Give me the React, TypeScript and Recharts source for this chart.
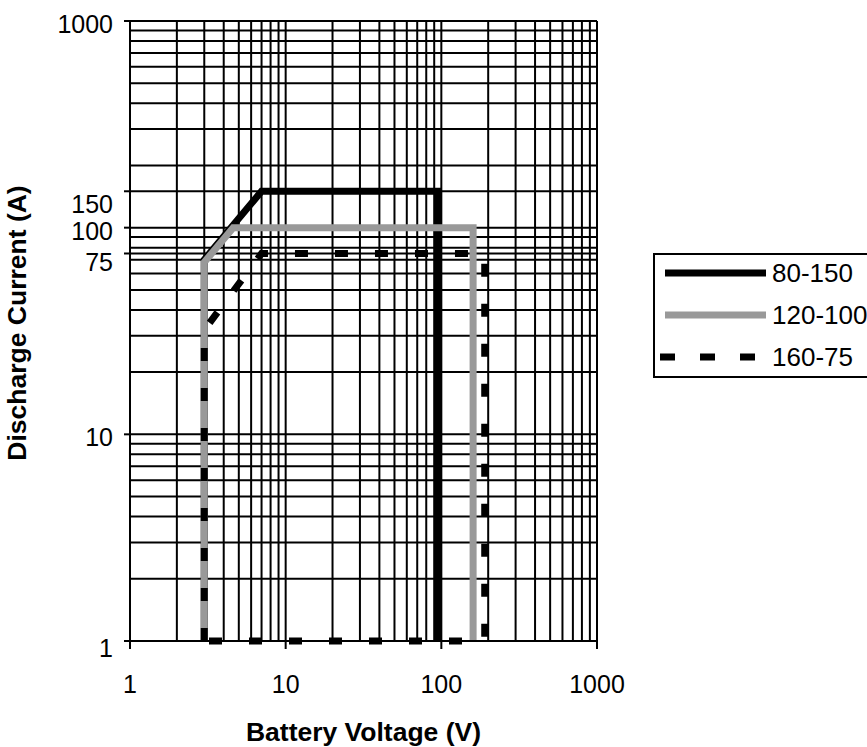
import React from "react";
import { LineChart, Line, XAxis, YAxis, CartesianGrid } from "recharts";

const FONT = '"Liberation Sans", Arial, Helvetica, sans-serif';

// series: battery voltage (V) vs discharge current (A)
const seriesNames = ["80-150", "120-100", "160-75"];
const voltage80 = [3, 3, 7, 95, 95];
const current80 = [1, 70, 150, 150, 1];
const voltage120 = [3, 3, 4.6, 160, 160];
const current120 = [1, 68, 100, 100, 1];
const voltage160 = [3, 3, 7, 190, 190, 3];
const current160 = [1, 32, 75, 75, 1, 1];

const xTickLabels = [1, 10, 100, 1000];
const yTickLabels = [1, 10, 75, 100, 150, 1000];
const decades = [1, 10, 100];
const minorSteps = [1, 2, 3, 4, 5, 6, 7, 8, 9];
const xGridValues = [...decades.flatMap((d) => minorSteps.map((m) => m * d)), 1000];
const yGridValues = [...xGridValues, 75, 150].sort((a, b) => a - b);

const toRows = (vs: number[], cs: number[]) => vs.map((v, i) => ({ v, i: cs[i] }));
const data80 = toRows(voltage80, current80);
const data120 = toRows(voltage120, current120);
const data160 = toRows(voltage160, current160);

const X_TICK_SIZE = 8;
const X_TICK_MARGIN = 26;
const Y_TICK_SIZE = 6;
const Y_TICK_MARGIN = 11;
const TICK_FONT = 25;
const TITLE_FONT = 26.5;
const LINE_W = 7;
const DASH = "13 27";

function XTick(props: any) {
  const { x, y, payload } = props;
  if (!xTickLabels.includes(payload.value)) return null;
  return (
    <g>
      <line x1={x} x2={x} y1={y - X_TICK_MARGIN - X_TICK_SIZE} y2={y - X_TICK_MARGIN} stroke="#000" strokeWidth={2} />
      <text x={x} y={y} dy="0.71em" textAnchor="middle" fontSize={TICK_FONT} fontFamily={FONT} fill="#000">
        {payload.value}
      </text>
    </g>
  );
}

// small label shifts the way the original sheet placed them
const yLabelNudge: Record<number, number> = { 150: 10, 75: 6, 1: 4 };

function YTick(props: any) {
  const { x, y, payload } = props;
  if (!yTickLabels.includes(payload.value)) return null;
  const dy = TICK_FONT * 0.355 + 3 + (yLabelNudge[payload.value] || 0);
  return (
    <g>
      <line x1={x + Y_TICK_MARGIN} x2={x + Y_TICK_MARGIN + Y_TICK_SIZE} y1={y} y2={y} stroke="#000" strokeWidth={2} />
      <text x={x} y={y} dy={dy} textAnchor="end" fontSize={TICK_FONT} fontFamily={FONT} fill="#000">
        {payload.value}
      </text>
    </g>
  );
}

function YTitle(props: any) {
  const { viewBox } = props;
  const x = viewBox.x + 17;
  const y = viewBox.y + viewBox.height / 2 - 8;
  return (
    <text
      x={x}
      y={y}
      dy="0.355em"
      transform={`rotate(-90 ${x} ${y})`}
      textAnchor="middle"
      fontWeight={700}
      fontSize={TITLE_FONT}
      fontFamily={FONT}
      fill="#000"
    >
      Discharge Current (A)
    </text>
  );
}

function LegendBox() {
  const rows = [
    { name: seriesNames[0], color: "#000", dash: false },
    { name: seriesNames[1], color: "#999", dash: false },
    { name: seriesNames[2], color: "#000", dash: true },
  ];
  return (
    <div
      style={{
        position: "absolute",
        left: 653,
        top: 253,
        width: 260,
        height: 125,
        border: "2px solid #000",
        boxSizing: "border-box",
        background: "#fff",
      }}
    >
      <svg width={260} height={125} style={{ position: "absolute", left: -2, top: -2 }}>
        {rows.map((r, k) => {
          const cy = 20 + k * 42;
          return (
            <g key={r.name}>
              <line
                x1={r.dash ? 7 : 12}
                x2={113}
                y1={cy}
                y2={cy}
                stroke={r.color}
                strokeWidth={LINE_W}
                strokeDasharray={r.dash ? "15 25" : undefined}
              />
              <text x={119} y={cy} dy="0.355em" fontSize={26} fontFamily={FONT} fill="#000">
                {r.name}
              </text>
            </g>
          );
        })}
      </svg>
    </div>
  );
}

export default function App() {
  return (
    <div style={{ position: "absolute", left: 0, top: 0, width: 867, height: 747, overflow: "hidden", background: "#fff" }}>
      <LineChart width={867} height={747} margin={{ top: 21, right: 270, bottom: 46, left: 0 }}>
        <CartesianGrid stroke="#000" strokeWidth={2} />
        <XAxis
          type="number"
          dataKey="v"
          scale="log"
          domain={[1, 1000]}
          ticks={xGridValues}
          interval={0}
          height={60}
          tickSize={X_TICK_SIZE}
          tickMargin={X_TICK_MARGIN}
          tickLine={false}
          tick={<XTick />}
          axisLine={{ stroke: "#000", strokeWidth: 2 }}
          label={{
            value: "Battery Voltage (V)",
            position: "bottom",
            offset: 21,
            style: { fontWeight: 700, fontSize: TITLE_FONT, fontFamily: FONT, fill: "#000" },
          }}
        />
        <YAxis
          type="number"
          dataKey="i"
          scale="log"
          domain={[1, 1000]}
          ticks={yGridValues}
          interval={0}
          width={130}
          tickSize={Y_TICK_SIZE}
          tickMargin={Y_TICK_MARGIN}
          tickLine={false}
          tick={<YTick />}
          axisLine={{ stroke: "#000", strokeWidth: 2 }}
          label={{ content: YTitle }}
        />
        <Line data={data80} dataKey="i" name={seriesNames[0]} stroke="#000" strokeWidth={LINE_W} dot={false} isAnimationActive={false} />
        <Line data={data120} dataKey="i" name={seriesNames[1]} stroke="#999" strokeWidth={LINE_W} dot={false} isAnimationActive={false} />
        <Line
          data={data160}
          dataKey="i"
          name={seriesNames[2]}
          stroke="#000"
          strokeWidth={LINE_W}
          strokeDasharray={DASH}
          dot={false}
          isAnimationActive={false}
        />
      </LineChart>
      <LegendBox />
    </div>
  );
}
